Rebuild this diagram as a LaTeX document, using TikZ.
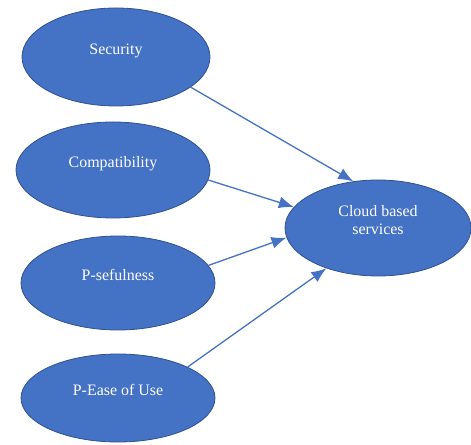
\documentclass[tikz,border=0pt]{standalone}
\usepackage{fontspec}
\setmainfont{Liberation Serif}
\usepackage{tikz}
\usetikzlibrary{arrows.meta,positioning,calc,shapes.geometric}
\definecolor{bleu}{HTML}{4472C4}
\definecolor{bord}{HTML}{2F528F}

\begin{document}
\begin{tikzpicture}[x=1bp,y=1bp]
\tikzstyle{fleche}=[-{Latex[length=15bp,width=12bp]},draw=bleu,line width=1.3bp]
\tikzstyle{bulle}=[ellipse,fill=bleu,draw=bord,line width=0.8bp,inner sep=0pt,
  text=white,font=\fontsize{16}{18}\selectfont,align=center,text depth=16bp]
\useasboundingbox (0,0) rectangle (471,445);
\def\Gauche{116}
\node[bulle,minimum width=188bp,minimum height=98bp] (Sec) at (\Gauche,388) {Security};
\node[bulle,minimum width=194bp,minimum height=96bp] (Comp) at (113,275) {Compatibility};
\node[bulle,minimum width=194bp,minimum height=94bp] (Use) at (118,162) {P-sefulness};
\node[bulle,minimum width=194bp,minimum height=88bp] (Ease) at (118,47) {P-Ease of Use};
\node[bulle,minimum width=186bp,minimum height=96bp] (Cloud) at (378,217) {Cloud based\\services};
\draw[fleche] (Sec.-22)--(Cloud.118);
\draw[fleche] (Comp.-6)--(Cloud.166);
\draw[fleche] (Use.11)--(Cloud.186);
\draw[fleche] (Ease.24)--(Cloud.218);
\end{tikzpicture}
\end{document}
